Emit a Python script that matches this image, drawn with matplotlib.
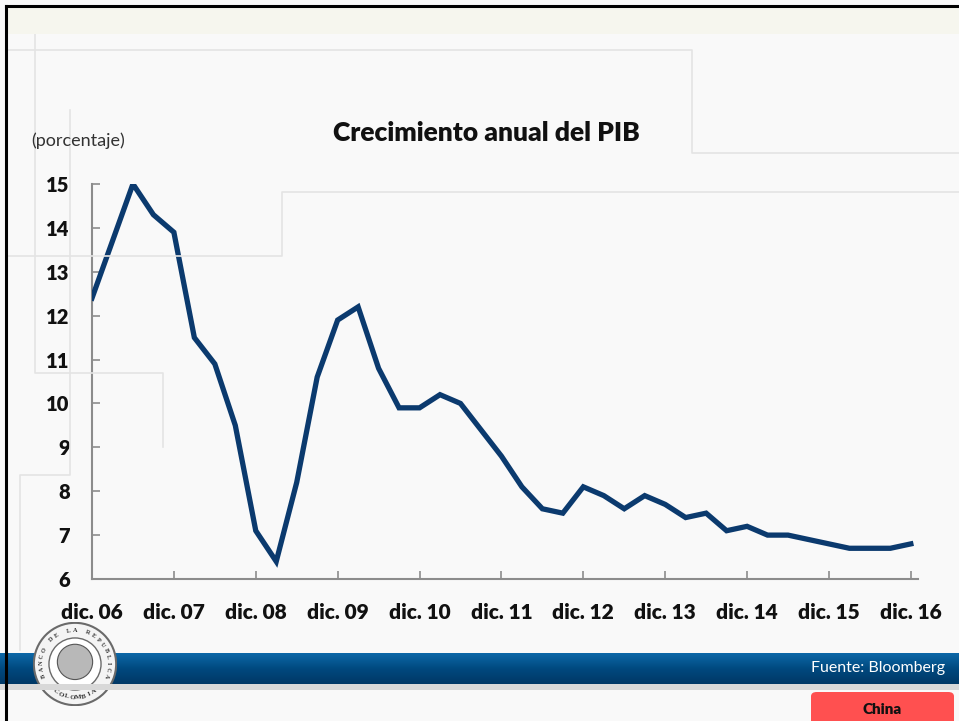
import numpy as np
import matplotlib
matplotlib.use("Agg")
import matplotlib.pyplot as plt
from matplotlib.patches import Rectangle, FancyBboxPatch, Circle
from matplotlib.lines import Line2D

# Crecimiento anual del PIB de China, trimestral dic. 06 - dic. 16 (%)
gdp_growth = [
    12.4, 13.7, 15.0, 14.3, 13.9, 11.5, 10.9, 9.5, 7.1, 6.4,
    8.2, 10.6, 11.9, 12.2, 10.8, 9.9, 9.9, 10.2, 10.0, 9.4,
    8.8, 8.1, 7.6, 7.5, 8.1, 7.9, 7.6, 7.9, 7.7, 7.4,
    7.5, 7.1, 7.2, 7.0, 7.0, 6.9, 6.8, 6.7, 6.7, 6.7, 6.8,
]
year_labels = ["dic. 06", "dic. 07", "dic. 08", "dic. 09", "dic. 10", "dic. 11",
               "dic. 12", "dic. 13", "dic. 14", "dic. 15", "dic. 16"]
y_ticks = [6, 7, 8, 9, 10, 11, 12, 13, 14, 15]

W, H = 959, 721
LINE_COLOR = "#0b3a6e"
AXIS_GRAY = "#8c8c8c"
DECO = "#e4e4e4"

plt.rcParams["font.family"] = ["Lato", "DejaVu Sans"]

fig = plt.figure(figsize=(W / 100, H / 100), dpi=100)
fig.patch.set_facecolor("#f9f9f9")


def fx(px):
    return px / W


def fy(py):
    return 1 - py / H


# slide background decoration
fig.patches.append(Rectangle((fx(6), fy(34)), fx(953), 27 / H, transform=fig.transFigure,
                             facecolor="#f6f6ee", edgecolor="none", zorder=0))
deco_paths = [
    [(6, 50), (692, 50), (692, 153), (959, 153)],
    [(35, 7), (35, 373), (163, 373), (163, 447)],
    [(70, 110), (70, 475), (20, 475), (20, 650)],
    [(6, 256), (282, 256), (282, 192), (959, 192)],
]
for path in deco_paths:
    xs = [fx(p[0]) for p in path]
    ys = [fy(p[1]) for p in path]
    fig.lines.append(Line2D(xs, ys, transform=fig.transFigure, color=DECO, lw=1.2, zorder=0))

# main chart
ax = fig.add_axes([fx(92), fy(579), fx(918 - 92), (579 - 184) / H])
ax.set_facecolor("none")
x = np.arange(len(gdp_growth))
ax.plot(x, gdp_growth, color=LINE_COLOR, lw=3.8, solid_joinstyle="miter", zorder=3)
ax.set_xlim(0, 40.35)
ax.set_ylim(6, 15)
ax.set_yticks(y_ticks)
ax.set_xticks(np.arange(0, len(gdp_growth), 4))
ax.set_xticklabels(year_labels)
for s in ["top", "right"]:
    ax.spines[s].set_visible(False)
for s in ["left", "bottom"]:
    ax.spines[s].set_color(AXIS_GRAY)
    ax.spines[s].set_linewidth(1.5)
ax.tick_params(axis="y", direction="in", length=6, width=1.2, color=AXIS_GRAY,
               pad=16, labelsize=14.5)
ax.tick_params(axis="x", direction="in", length=6, width=1.2, color=AXIS_GRAY,
               pad=17, labelsize=15)
for lab in ax.get_xticklabels() + ax.get_yticklabels():
    lab.set_fontweight("heavy")
    lab.set_color("#111111")

fig.text(fx(486), fy(133), "Crecimiento anual del PIB", ha="center", va="center",
         fontsize=19, fontweight="heavy", color="#111111")
fig.text(fx(31), fy(141), "(porcentaje)", ha="left", va="center",
         fontsize=13, color="#333333")

# blue footer band
band = fig.add_axes([0, fy(684), 1, 31 / H])
grad = np.linspace(0, 1, 64).reshape(-1, 1)
band.imshow(grad, aspect="auto", cmap=matplotlib.colors.LinearSegmentedColormap.from_list(
    "band", ["#0d68a8", "#00497f", "#003866"]), extent=[0, 1, 0, 1])
band.axis("off")
fig.patches.append(Rectangle((0, fy(690)), 1, 6 / H, transform=fig.transFigure,
                             facecolor="#d8d8d8", edgecolor="none", zorder=0))
fig.text(fx(945), fy(668), "Fuente: Bloomberg", ha="right", va="center",
         fontsize=11.5, color="white", zorder=5)

# logo
logo = fig.add_axes([fx(33), fy(706), 84 / W, 84 / H])
logo.set_xlim(-1, 1)
logo.set_ylim(-1, 1)
logo.set_aspect("equal")
logo.axis("off")
logo.add_patch(Circle((0, 0), 0.98, facecolor="#f4f4f4", edgecolor="#6a6a6a", lw=1.5))
logo.add_patch(Circle((0, 0), 0.62, facecolor="white", edgecolor="#6a6a6a", lw=1.0))
logo.add_patch(Circle((0.0, 0.05), 0.42, facecolor="#b8b8b8", edgecolor="#555555", lw=0.8))
top_text = "BANCO DE LA REPUBLICA"
angles = np.linspace(200, -20, len(top_text))
for ch, a in zip(top_text, angles):
    r = 0.8
    logo.text(r * np.cos(np.radians(a)), r * np.sin(np.radians(a)), ch,
              rotation=a - 90, ha="center", va="center", fontsize=4.5,
              fontweight="bold", family=["Liberation Serif", "DejaVu Serif"], color="#333333")
bot_text = "COLOMBIA"
angles = np.linspace(235, 305, len(bot_text))
for ch, a in zip(bot_text, angles):
    r = 0.8
    logo.text(r * np.cos(np.radians(a)), r * np.sin(np.radians(a)), ch,
              rotation=a + 90, ha="center", va="center", fontsize=5,
              fontweight="bold", family=["Liberation Serif", "DejaVu Serif"], color="#333333")

# red label
fig.patches.append(FancyBboxPatch((fx(811), fy(728)), fx(143), 36 / H,
                                  boxstyle="round,pad=0,rounding_size=0.006",
                                  transform=fig.transFigure, facecolor="#ff5050",
                                  edgecolor="none", zorder=4))
fig.text(fx(882), fy(709), "China", ha="center", va="center", fontsize=11,
         fontweight="heavy", color="#111111", zorder=5)

# slide frame
fig.lines.append(Line2D([fx(6), fx(6)], [0, fy(6)], transform=fig.transFigure,
                        color="black", lw=2.2, zorder=6))
fig.lines.append(Line2D([fx(6), 1], [fy(6), fy(6)], transform=fig.transFigure,
                        color="black", lw=2.2, zorder=6))

fig.savefig("out.png", dpi=100, facecolor=fig.get_facecolor())
